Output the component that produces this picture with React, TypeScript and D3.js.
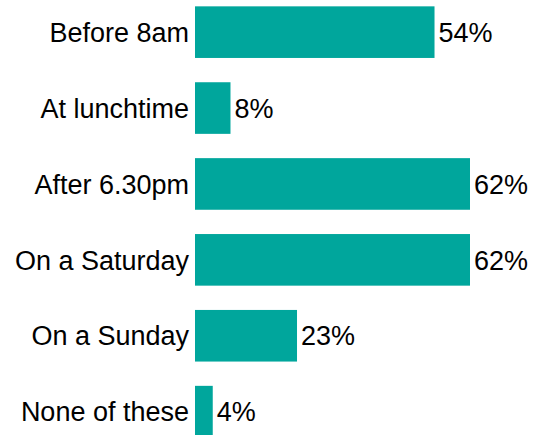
import * as d3 from "d3";
import React, { useRef, useEffect } from "react";

const categories = [
  "Before 8am",
  "At lunchtime",
  "After 6.30pm",
  "On a Saturday",
  "On a Sunday",
  "None of these",
];
const values = [54, 8, 62, 62, 23, 4];

const width = 535;
const height = 435;
const barColor = "#00a69c";
const fontFamily = "'Liberation Sans', Arial, sans-serif";

function App() {
  const ref = useRef<SVGSVGElement>(null);

  useEffect(() => {
    const svg = d3.select(ref.current);
    svg.selectAll("*").remove();

    const data = categories.map((c, i) => ({ cat: c, val: values[i] }));

    const x = d3.scaleLinear().domain([0, 62]).range([195, 470]);
    const y = d3
      .scaleBand()
      .domain(categories)
      .range([-5.8, 449.6])
      .paddingInner(0.32)
      .paddingOuter(0.16);

    // bars
    svg
      .append("g")
      .selectAll("rect")
      .data(data)
      .enter()
      .append("rect")
      .attr("x", x(0))
      .attr("y", (d) => y(d.cat)!)
      .attr("width", (d) => x(d.val) - x(0))
      .attr("height", y.bandwidth())
      .attr("fill", barColor);

    // category labels
    svg
      .append("g")
      .selectAll("text")
      .data(data)
      .enter()
      .append("text")
      .attr("x", x(0) - 6)
      .attr("y", (d) => y(d.cat)! + y.bandwidth() / 2)
      .attr("dy", "0.36em")
      .attr("text-anchor", "end")
      .attr("font-family", fontFamily)
      .attr("font-size", 27)
      .attr("fill", "#000")
      .text((d) => d.cat);

    // value labels
    svg
      .append("g")
      .selectAll("text")
      .data(data)
      .enter()
      .append("text")
      .attr("x", (d) => x(d.val) + 4)
      .attr("y", (d) => y(d.cat)! + y.bandwidth() / 2)
      .attr("dy", "0.36em")
      .attr("font-family", fontFamily)
      .attr("font-size", 27)
      .attr("fill", "#000")
      .text((d) => d.val + "%");
  }, []);

  return (
    <svg
      ref={ref}
      width={width}
      height={height}
      style={{ position: "absolute", left: 0, top: 0, background: "#fff" }}
    />
  );
}

export default App;
